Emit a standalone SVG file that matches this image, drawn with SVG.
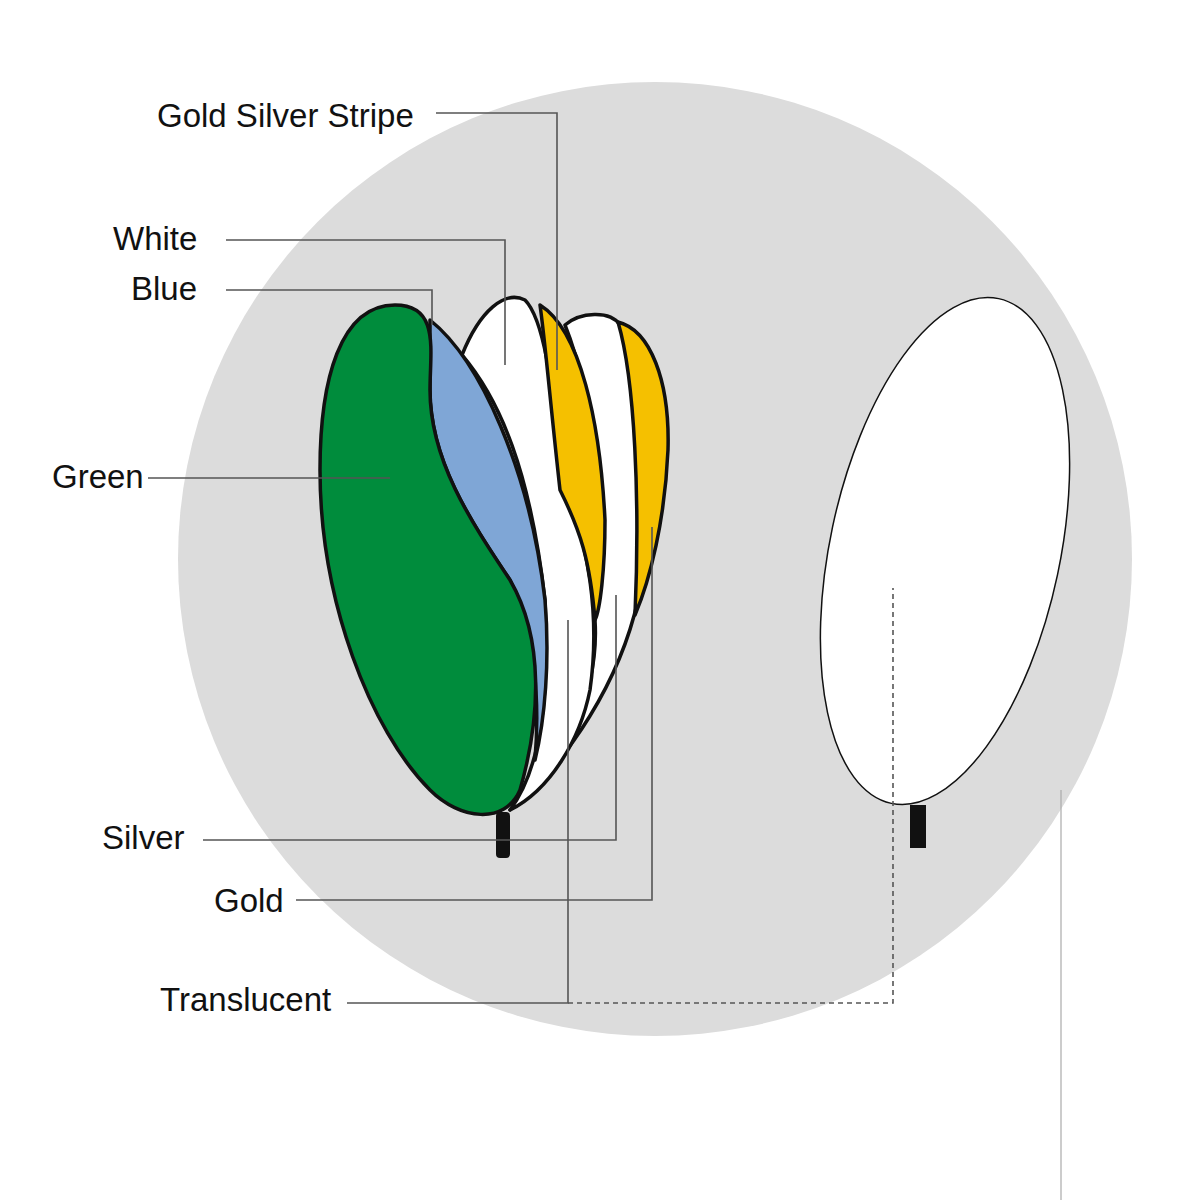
<svg xmlns="http://www.w3.org/2000/svg" width="1200" height="1200" viewBox="0 0 1200 1200">
<style>
text{font-family:"Liberation Sans",Arial,sans-serif;font-size:33px;fill:#111}
.p{stroke:#111;stroke-width:3.5;stroke-linejoin:round}
.l{fill:none;stroke:#555;stroke-width:1.6}
</style>
<rect width="1200" height="1200" fill="#fff"/>
<circle cx="655" cy="559" r="477" fill="#dcdcdc"/>
<g id="translucent-seed">
<ellipse cx="945" cy="551" rx="115" ry="258" transform="rotate(12 945 551)" fill="#fff" stroke="#111" stroke-width="1.5"/>
<rect x="910" y="805" width="16" height="43" fill="#111"/>
</g>
<g id="seeds">
<path class="p" fill="#fff" d="M565,325 C580,312 610,310 620,325 C635,360 640,480 638,600 C620,680 570,760 510,810 C560,760 600,700 595,620 C605,520 595,400 565,325 Z"/>
<path class="p" fill="#f5c000" d="M618,322 C650,330 670,380 668,450 C665,520 650,580 635,615 C640,500 635,380 618,322 Z"/>
<path class="p" fill="#fff" d="M462,355 C480,310 505,290 525,300 C545,320 555,400 560,480 C590,540 600,620 590,690 C580,740 550,790 510,810 C540,770 550,700 545,600 C530,470 500,400 462,355 Z"/>
<path class="p" fill="#f5c000" stroke-width="1.5" d="M540,305 C580,330 600,420 605,520 C605,570 600,610 595,620 C590,560 580,530 560,490 C550,400 545,340 540,305 Z"/>
<path class="p" fill="#7fa6d6" d="M430,320 C480,360 530,470 545,600 C550,660 545,720 535,760 C540,700 535,630 510,580 C470,520 430,460 430,390 Z"/>
<path class="p" fill="#008c3c" d="M395,305 C440,305 430,350 430,390 C430,460 470,520 510,580 C545,640 540,720 520,790 C505,825 460,820 430,790 C370,730 320,600 320,470 C320,380 340,305 395,305 Z"/>
<rect x="496" y="812" width="14" height="46" rx="4" fill="#111"/>
</g>
<g id="connectors">
<path class="l" d="M436,113 H557 V370"/>
<path class="l" d="M226,240 H505 V365"/>
<path class="l" d="M226,290 H432 V325"/>
<path class="l" d="M148,478 H390"/>
<path class="l" d="M203,840 H616 V595"/>
<path class="l" d="M296,900 H652 V527"/>
<path class="l" d="M347,1003 H568 V620"/>
<path class="l" stroke-dasharray="5,4" d="M568,1003 H893 V588"/>
<path fill="none" stroke="#aaa" stroke-width="1.2" d="M1061,790 V1200"/>
</g>
<g id="labels">
<text x="157" y="127">Gold Silver Stripe</text>
<text x="113" y="250">White</text>
<text x="131" y="300">Blue</text>
<text x="52" y="488">Green</text>
<text x="102" y="849">Silver</text>
<text x="214" y="912">Gold</text>
<text x="160" y="1011">Translucent</text>
</g>
</svg>
